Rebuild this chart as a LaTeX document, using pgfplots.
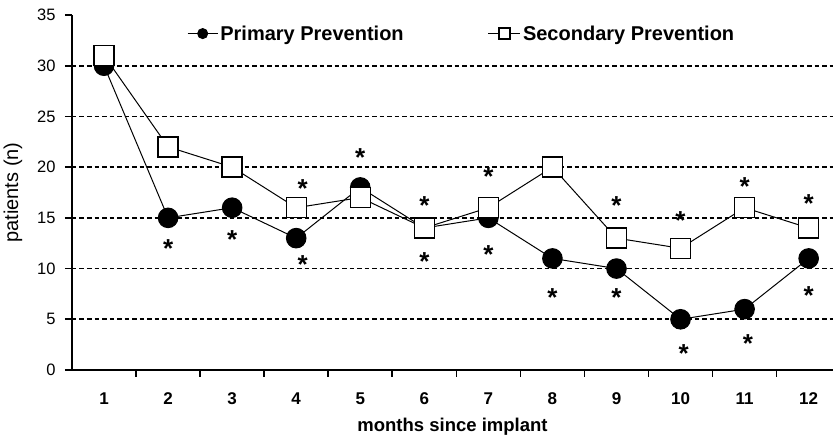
\documentclass[border=0pt]{standalone}
\usepackage{pgfplots}
\pgfplotsset{compat=1.18}
\usepackage{fontspec}
\setmainfont{Liberation Sans}
\begin{document}
\begin{tikzpicture}
\begin{axis}[
  scale only axis,
  width=761pt, height=355pt,
  xmin=0.5, xmax=12.38, ymin=0, ymax=35,
  axis x line=bottom, axis y line=left,
  axis line style={-, line width=1.6pt},
  xtick={1,...,12},
  major x tick style={draw=none},
  minor xtick={1.5,2.5,...,11.5},
  minor x tick style={line width=1.6pt, black},
  minor tick length=7pt,
  tick align=outside,
  ytick={0,5,...,35},
  major y tick style={line width=1.6pt, black},
  major tick length=7pt,
  extra y ticks={5,10,...,30},
  extra y tick labels={},
  extra y tick style={ymajorgrids=true, major tick length=0pt},
  grid style={dash pattern=on 4.5pt off 3pt, line width=1.6pt, black},
  xticklabel style={font=\fontsize{17}{20}\selectfont\bfseries, yshift=-12pt},
  yticklabel style={font=\fontsize{16.5}{20}\selectfont, xshift=-6pt},
  /pgf/number format/assume math mode=true,
  xlabel={\fontsize{18.5}{22}\selectfont\bfseries months since implant},
  xlabel style={yshift=-7pt},
  ylabel={\fontsize{20}{23}\selectfont patients (n)},
  ylabel style={yshift=1pt},
  legend style={draw=none, fill=none, at={(0.512,0.982)}, anchor=north, legend columns=2,
    font=\fontsize{20}{23}\selectfont\bfseries, /tikz/every even column/.append style={column sep=82pt}},
  legend cell align=left,
  clip=false,
]
\addplot[black, line width=1pt, mark=*, mark size=9.8pt, mark options={fill=black},
  legend image code/.code={\draw[black, line width=1.3pt] (0pt,0pt)--(30pt,0pt); \fill[black] (15pt,0pt) circle (5pt);}]
  coordinates {(1,30)(2,15)(3,16)(4,13)(5,18)(6,14)(7,15)(8,11)(9,10)(10,5)(11,6)(12,11)};
\addlegendentry{Primary Prevention}
\addplot[black, line width=1pt, mark=square*, mark size=10pt, mark options={fill=white, line width=1.3pt},
  legend image code/.code={\draw[black, line width=1.3pt] (0pt,0pt)--(32pt,0pt); \draw[black, fill=white, line width=1.3pt] (10.5pt,-5.5pt) rectangle (21.5pt,5.5pt);}]
  coordinates {(1,31)(2,22)(3,20)(4,16)(5,17)(6,14)(7,16)(8,20)(9,13)(10,12)(11,16)(12,14)};
\addlegendentry{Secondary Prevention}
\addplot[only marks, mark=text, text mark={\fontsize{26}{26}\selectfont\bfseries *}, forget plot]
  coordinates {(2,12.0)(3,12.9)(4.1,17.9)(4.1,10.4)(5,20.9)(6,16.2)(6,10.7)(7,19.1)(7,11.4)(8,7.1)(9,16.2)(9,7.1)(10,14.7)(10.05,1.6)(11,18.1)(11.05,2.6)(12,16.4)(12,7.3)};
\end{axis}
\pgfresetboundingbox
\path ([shift={(-72pt,-66pt)}]current axis.south west) rectangle ([shift={(0pt,15pt)}]current axis.north east);
\end{tikzpicture}
\end{document}
